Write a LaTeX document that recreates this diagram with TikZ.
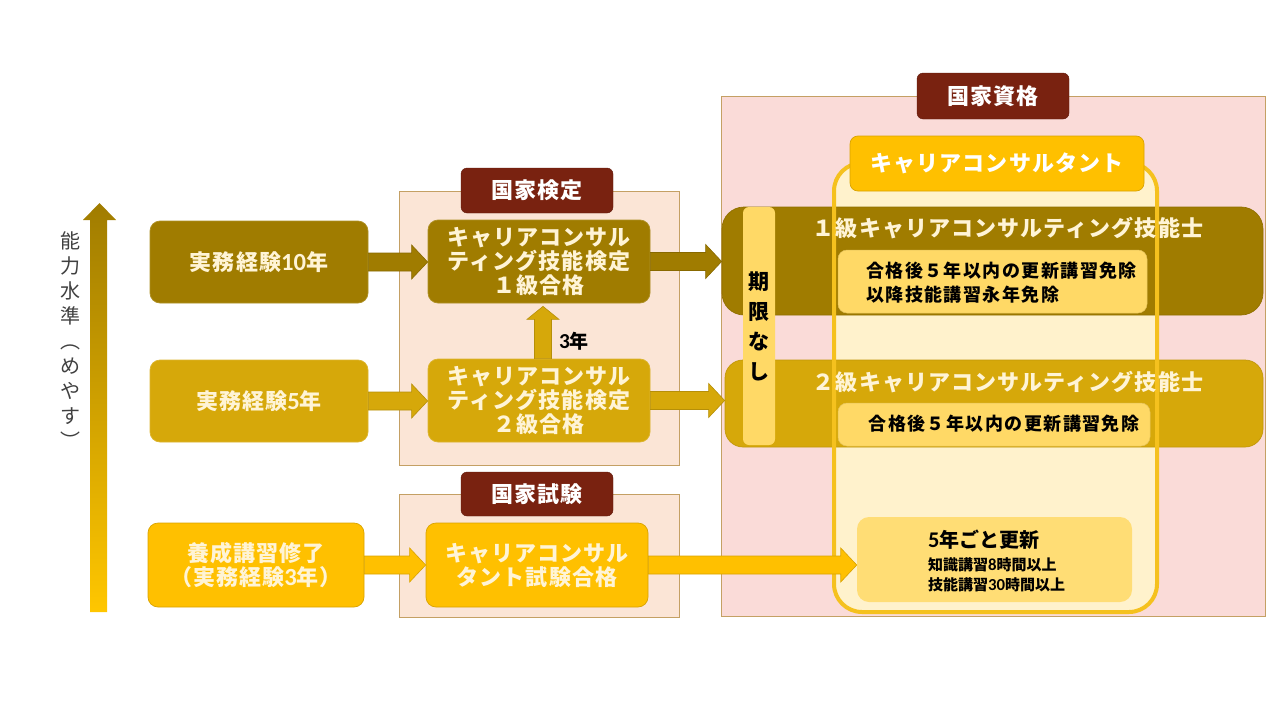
\documentclass[tikz,border=0pt]{standalone}
\usepackage{fontspec}
\setmainfont{Noto Sans CJK JP}
\newfontfamily\latin{Carlito}[Scale=1.12]
\usetikzlibrary{calc,positioning}
\definecolor{darkgold}{RGB}{160,124,0}
\definecolor{midgold}{RGB}{214,168,10}
\definecolor{brightgold}{RGB}{255,192,0}
\definecolor{framegold}{RGB}{245,193,30}
\definecolor{lightgold}{RGB}{255,217,102}
\definecolor{paleyellow}{RGB}{255,242,204}
\definecolor{peach}{RGB}{251,229,214}
\definecolor{rosepink}{RGB}{250,219,216}
\definecolor{tagbrown}{RGB}{121,34,16}
\definecolor{cream}{RGB}{255,244,214}
\definecolor{tan}{RGB}{196,160,100}
\newcommand{\boxfont}{\bfseries\fontsize{22}{24}\selectfont\addfontfeature{LetterSpace=5}}
\newcommand{\notefont}{\bfseries\fontsize{18}{24}\selectfont\addfontfeature{LetterSpace=8}}
% block arrow from the east side of #1 to the west side of #2
\newcommand{\blockarrow}[3]{%
  \filldraw[fill=#3, draw=#3!85!black, line width=0.6pt]
    let \p1=(#1.east), \p2=(#2.west) in
    (\x1,\y1-9pt) -- (\x2-16pt,\y1-9pt) -- (\x2-16pt,\y1-17pt) -- (\x2,\y1)
    -- (\x2-16pt,\y1+17pt) -- (\x2-16pt,\y1+9pt) -- (\x1,\y1+9pt) -- cycle;}
\tikzset{
  box/.style={rounded corners=10pt, inner sep=0pt, align=center, font=\boxfont,
    text=cream, line width=0.7pt},
  tag/.style={fill=tagbrown, draw=tagbrown!80!black, rounded corners=6pt,
    minimum width=152pt, minimum height=45pt, text=white,
    font=\bfseries\fontsize{22}{24}\selectfont\addfontfeature{LetterSpace=5}},
  region/.style={draw=tan, line width=0.6pt},
  note/.style={fill=lightgold, draw=lightgold!90!black, rounded corners=9pt, line width=0.5pt}
}
\begin{document}
\begin{tikzpicture}[x=1pt,y=-1pt]
  \useasboundingbox (0,0) rectangle (1280,720);
  % Background regions
  \fill[region, fill=peach] (399,191) rectangle (679,465);
  \fill[region, fill=peach] (399,494) rectangle (679,617);
  \fill[region, fill=rosepink] (721,96) rectangle (1265,616);
  \draw[region] (399,191) rectangle (679,465);
  \draw[region] (399,494) rectangle (679,617);
  \draw[region] (721,96) rectangle (1265,616);
  % Career consultant frame (fill)
  \coordinate (frameNW) at (834,163);
  \coordinate (frameSE) at (1157,612);
  \fill[paleyellow, rounded corners=28pt] (frameNW) rectangle (frameSE);
  % Bands of the qualified technicians
  \node[box, fill=darkgold, draw=darkgold!90!black, rounded corners=22pt,
    minimum width=541pt, minimum height=108pt] (band1) at (992.5,261) {};
  \node[box, fill=midgold, draw=midgold!90!black, rounded corners=18pt,
    minimum width=538pt, minimum height=87pt] (band2) at (994,403.5) {};
  \node[fill=lightgold, rounded corners=6pt, minimum width=32pt, minimum height=238pt,
    inner sep=0pt, align=center, font=\bfseries\fontsize{21}{30}\selectfont]
    (nolimit) at (759,326) {期\\限\\な\\し};
  % Career consultant frame (outline)
  \draw[framegold, line width=4pt, rounded corners=28pt] (frameNW) rectangle (frameSE);
  \node[box, fill=brightgold, draw=brightgold!85!black, rounded corners=8pt,
    minimum width=294pt, minimum height=55pt, text=white] (cc) at (997,163.5) {キャリアコンサルタント};
  \node[box, font=\boxfont] (band1txt) at (1008,228) {１級キャリアコンサルティング技能士};
  \node[box, font=\boxfont] (band2txt) at (1008,382) {２級キャリアコンサルティング技能士};
  % Notes inside the bands
  \node[note, minimum width=309pt, minimum height=63pt] (note1) at (992.5,281.5) {};
  \node[anchor=west, align=left, inner sep=0pt, font=\notefont] (note1txt) at (866,283)
    {合格後５年以内の更新講習免除\\以降技能講習永年免除};
  \node[note, minimum width=312pt, minimum height=43pt] (note2) at (994,424.5) {};
  \node[inner sep=0pt, font=\notefont] (note2txt) at (1004,424) {合格後５年以内の更新講習免除};
  \node[note, fill=lightgold!85!paleyellow, draw=none, rounded corners=12pt,
    minimum width=275pt, minimum height=85pt] (renew) at (994.5,559.5) {};
  \node[anchor=west, align=left, inner sep=0pt, font=\bfseries\fontsize{15}{20}\selectfont]
    (renewtxt) at (928,561)
    {{\fontsize{20}{22}\selectfont{\latin 5}年ごと更新}\\[3pt]知識講習{\latin 8}時間以上\\技能講習{\latin 30}時間以上};
  % Tags
  \node[tag] (kentei) at (537,190.5) {国家検定};
  \node[tag, minimum height=44pt] (shiken) at (537,494) {国家試験};
  \node[tag, minimum height=46pt] (shikaku) at (993,96) {国家資格};
  % Requirement boxes
  \node[box, fill=darkgold, draw=darkgold!85!white, minimum width=218pt, minimum height=82pt]
    (exp10) at (259,262) {実務経験{\latin 10}年};
  \node[box, fill=midgold, draw=midgold!85!white, minimum width=218pt, minimum height=82pt]
    (exp5) at (259,401) {実務経験{\latin 5}年};
  \node[box, fill=brightgold, draw=brightgold!85!black, minimum width=216pt, minimum height=84pt]
    (course) at (256,565) {養成講習修了\\（実務経験{\latin 3}年）};
  % Examination boxes
  \node[box, fill=darkgold, draw=darkgold!85!white, minimum width=222pt, minimum height=83pt]
    (grade1) at (539,261.5) {キャリアコンサル\\ティング技能検定\\１級合格};
  \node[box, fill=midgold, draw=midgold!85!white, minimum width=222pt, minimum height=83pt]
    (grade2) at (539,400.5) {キャリアコンサル\\ティング技能検定\\２級合格};
  \node[box, fill=brightgold, draw=brightgold!85!black, minimum width=222pt, minimum height=84pt]
    (exam) at (537,565) {キャリアコンサル\\タント試験合格};
  % Arrows
  \blockarrow{exp10}{grade1}{darkgold}
  \blockarrow{exp5}{grade2}{midgold}
  \blockarrow{course}{exam}{brightgold}
  \blockarrow{grade1}{band1}{darkgold}
  \blockarrow{grade2}{band2}{midgold}
  \blockarrow{exam}{renew}{brightgold}
  \filldraw[fill=midgold, draw=midgold!85!black, line width=0.6pt]
    let \p1=(grade2.north), \p2=(grade1.south) in
    (\x1-4.5pt,\y1) -- (\x1-4.5pt,\y2-16pt) -- (\x1-12pt,\y2-16pt) -- (\x1+4pt,\y2-3pt)
    -- (\x1+20pt,\y2-16pt) -- (\x1+12.5pt,\y2-16pt) -- (\x1+12.5pt,\y1) -- cycle;
  \node[font=\bfseries\fontsize{19}{20}\selectfont] (years3) at (574,341) {{\latin 3}年};
  % Ability axis
  \shade[top color=darkgold, bottom color=brightgold!90!yellow]
    (90,612) -- (90,220) -- (83,220) -- (99.5,203) -- (116,220) -- (107,220) -- (107,612) -- cycle;
  \node[align=center, inner sep=0pt, text=black!75, font=\fontsize{20}{25}\selectfont]
    (axislabel) at (70,340) {能\\力\\水\\準\\︵\\め\\や\\す\\︶};
\end{tikzpicture}
\end{document}
